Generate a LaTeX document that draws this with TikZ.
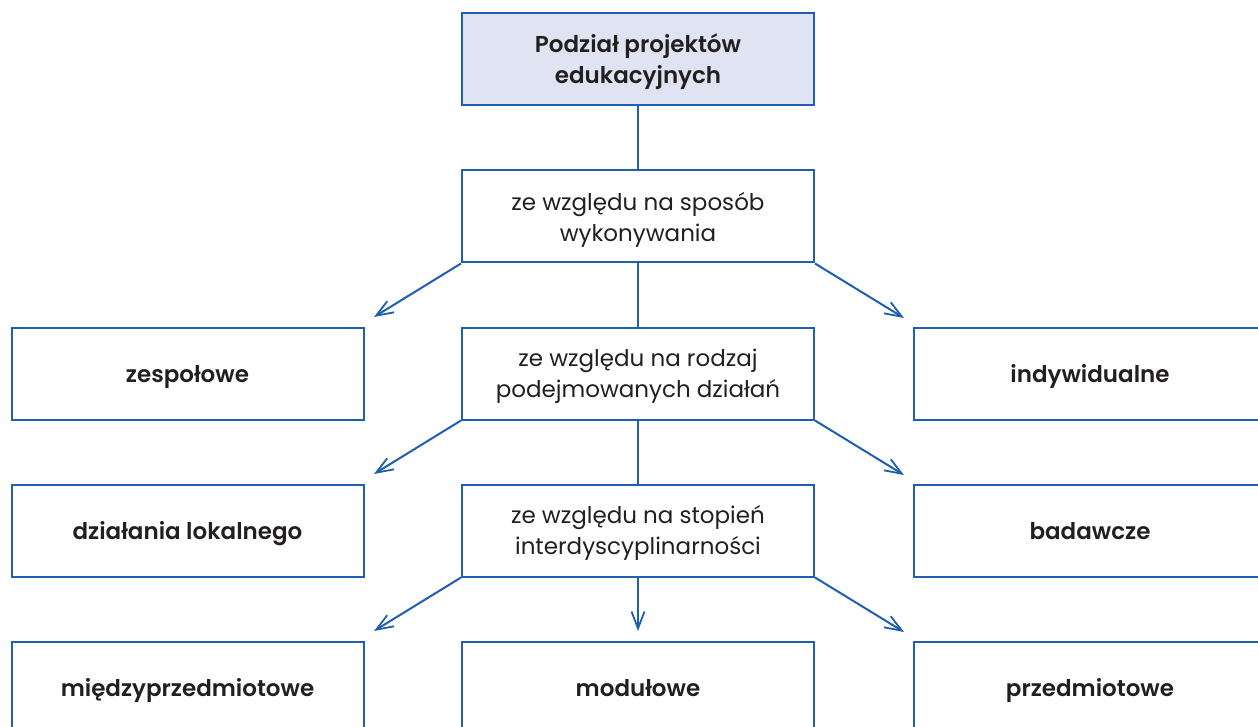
\documentclass[tikz,border=0pt]{standalone}
\usepackage{fontspec}
\setmainfont{Poppins}[BoldFont={Poppins SemiBold}]
\usetikzlibrary{arrows.meta}
\definecolor{lineblue}{HTML}{1F5FAE}
\definecolor{boxfill}{HTML}{E0E4F2}
\definecolor{txt}{HTML}{231F20}
\tikzset{
  box/.style={draw=lineblue, line width=2pt, minimum width=352pt, minimum height=92pt,
    inner sep=0pt, align=center, text=txt, text depth=0pt, font=\fontsize{23}{31}\selectfont},
  boldbox/.style={box, font=\fontsize{23}{31}\selectfont\bfseries},
  conn/.style={draw=lineblue, line width=2pt},
  arr/.style={conn, -{Straight Barb[length=17pt,width=13pt,line width=1.8pt]}},
}
\begin{document}
\begin{tikzpicture}[x=1pt,y=-1pt]
\useasboundingbox (0,0) rectangle (1258,727);
\clip (0,0) rectangle (1258,727);
% center column
\node[boldbox, fill=boxfill] (top) at (638,59) {Podział projektów\\edukacyjnych};
\node[box] (c1) at (638,216.5) {ze względu na sposób\\wykonywania};
\node[box] (c2) at (638,373.5) {ze względu na rodzaj\\podejmowanych działań};
\node[box] (c3) at (638,530.5) {ze względu na stopień\\interdyscyplinarności};
\node[boldbox] (c4) at (638,687.5) {modułowe};
% left column
\node[boldbox] (l1) at (187.5,373.5) {zespołowe};
\node[boldbox] (l2) at (187.5,530.5) {działania lokalnego};
\node[boldbox] (l3) at (187.5,687.5) {międzyprzedmiotowe};
% right column
\node[boldbox] (r1) at (1090,373.5) {indywidualne};
\node[boldbox] (r2) at (1090,530.5) {badawcze};
\node[boldbox] (r3) at (1090,687.5) {przedmiotowe};
% arrow end points
\coordinate (la1) at (374,317);
\coordinate (ra1) at (904,318);
\coordinate (la2) at (374,474);
\coordinate (ra2) at (904,475);
\coordinate (la3) at (374,631);
\coordinate (ra3) at (904,632);
\coordinate (ca3) at (638,631);
% connectors
\draw[conn] (top.south) -- (c1.north);
\draw[conn] (c1.south) -- (c2.north);
\draw[conn] (c2.south) -- (c3.north);
\draw[arr] (c1.south west) -- (la1);
\draw[arr] (c1.south east) -- (ra1);
\draw[arr] (c2.south west) -- (la2);
\draw[arr] (c2.south east) -- (ra2);
\draw[arr] (c3.south west) -- (la3);
\draw[arr] (c3.south east) -- (ra3);
\draw[arr] (c3.south) -- (ca3);
\end{tikzpicture}
\end{document}
